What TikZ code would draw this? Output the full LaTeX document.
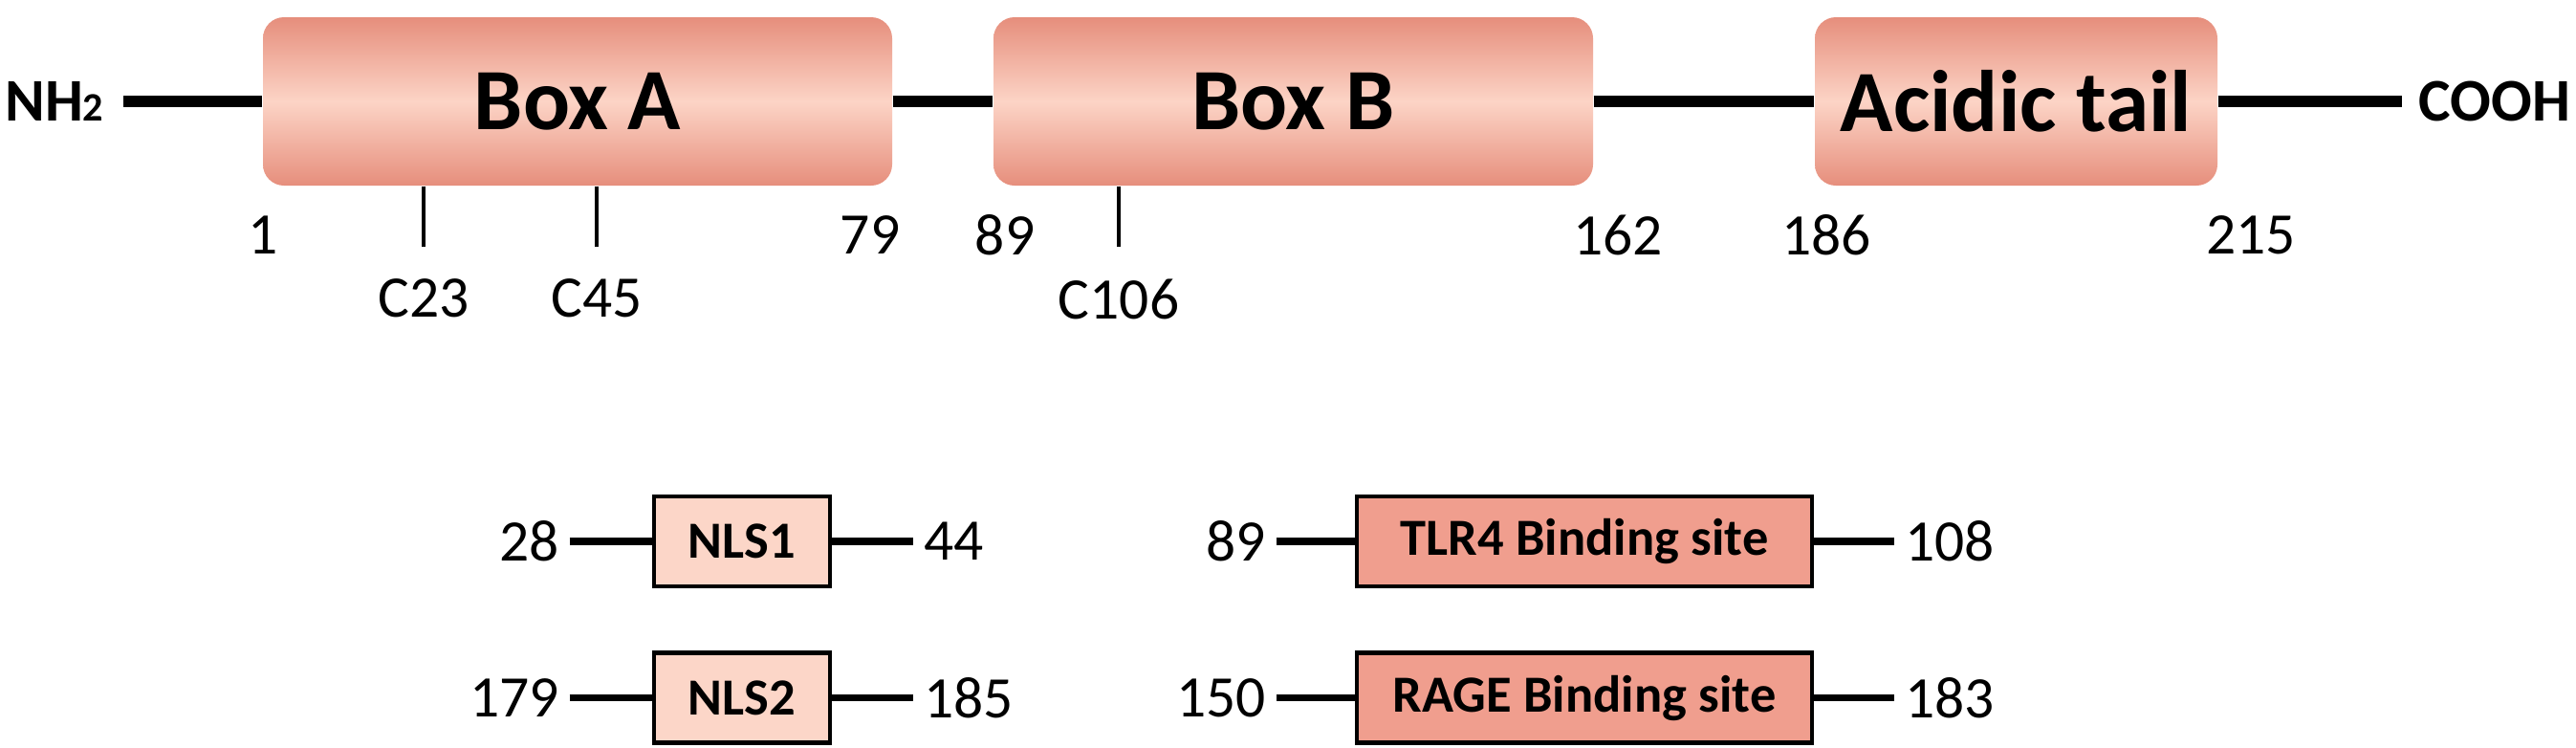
\documentclass[tikz,border=0pt]{standalone}
\usepackage{fontspec}
\setmainfont{Carlito}
\usetikzlibrary{positioning}

\definecolor{boxedge}{RGB}{230,142,124}
\definecolor{boxmid}{RGB}{252,212,198}
\definecolor{nlsfill}{RGB}{252,214,200}
\definecolor{sitefill}{RGB}{240,158,142}

\tikzset{
  dombox/.style={rounded corners=0.22cm, minimum height=1.76cm, inner sep=0pt,
    top color=boxedge, bottom color=boxedge, middle color=boxmid,
    font=\fontsize{26}{31}\selectfont\bfseries},
  motifbox/.style={draw, line width=1.4pt, minimum height=0.94cm, inner sep=0pt,
    font=\fontsize{15.5}{18}\selectfont\bfseries},
  resnum/.style={inner xsep=0.1cm, inner ysep=0pt, font=\fontsize{17.5}{20}\selectfont},
  endlabel/.style={inner ysep=0pt, font=\fontsize{18}{21}\selectfont\bfseries},
  backbone/.style={line width=3.6pt},
  flank/.style={line width=2.2pt},
  cysmark/.style={line width=1.4pt},
}

\begin{document}
\begin{tikzpicture}
  \useasboundingbox (0,0) rectangle (26.94,7.81);

  % the three domains
  \node[dombox, minimum width=6.58cm] (boxA) at (6.04,6.75) {Box A};
  \node[dombox, minimum width=6.27cm] (boxB) at (13.525,6.75) {Box B};
  \node[dombox, minimum width=4.21cm] (tail) at (21.085,6.75) {Acidic tail};

  % termini
  \node[endlabel, anchor=east, inner xsep=0.2cm] (nh2) at (1.29,6.75) {NH{\fontsize{12}{14}\selectfont 2}};
  \node[endlabel, anchor=west, inner xsep=0.17cm] (cooh) at (25.12,6.75) {COOH};

  \draw[backbone] (nh2) -- (boxA);
  \draw[backbone] (boxA) -- (boxB);
  \draw[backbone] (boxB) -- (tail);
  \draw[backbone] (tail) -- (cooh);

  % domain limits
  \node[resnum] (r1) at (2.75,5.35) {1};
  \node[resnum] (r79) at (9.10,5.35) {79};
  \node[resnum] (r89) at (10.51,5.35) {89};
  \node[resnum] (r162) at (16.92,5.35) {162};
  \node[resnum] (r186) at (19.10,5.35) {186};
  \node[resnum] (r215) at (23.54,5.35) {215};

  % cysteines
  \foreach \cys/\x in {23/4.43, 45/6.24, 106/11.70} {
    \coordinate (c\cys) at (\x,5.23);
    \draw[cysmark] (c\cys |- boxA.south) -- (c\cys);
    \node[resnum, below=0.33cm of c\cys] (lc\cys) {C\cys};
  }

  % nuclear localisation signals
  \node[motifbox, fill=nlsfill, minimum width=1.84cm] (nls1) at (7.76,2.15) {NLS1};
  \node[motifbox, fill=nlsfill, minimum width=1.84cm] (nls2) at (7.76,0.515) {NLS2};
  \node[resnum, left=0.86cm of nls1] (n28) {28};
  \node[resnum, right=0.85cm of nls1] (n44) {44};
  \node[resnum, left=0.86cm of nls2] (n179) {179};
  \node[resnum, right=0.85cm of nls2] (n185) {185};
  \draw[flank] (n28) -- (nls1);
  \draw[flank] (nls1) -- (n44);
  \draw[flank] (n179) -- (nls2);
  \draw[flank] (nls2) -- (n185);

  % receptor binding sites
  \node[motifbox, fill=sitefill, minimum width=4.76cm] (tlr4) at (16.57,2.15) {TLR4 Binding site};
  \node[motifbox, fill=sitefill, minimum width=4.76cm] (rage) at (16.57,0.515) {RAGE Binding site};
  \node[resnum, left=0.82cm of tlr4] (n89) {89};
  \node[resnum, right=0.84cm of tlr4] (n108) {108};
  \node[resnum, left=0.82cm of rage] (n150) {150};
  \node[resnum, right=0.84cm of rage] (n183) {183};
  \draw[flank] (n89) -- (tlr4);
  \draw[flank] (tlr4) -- (n108);
  \draw[flank] (n150) -- (rage);
  \draw[flank] (rage) -- (n183);
\end{tikzpicture}
\end{document}
